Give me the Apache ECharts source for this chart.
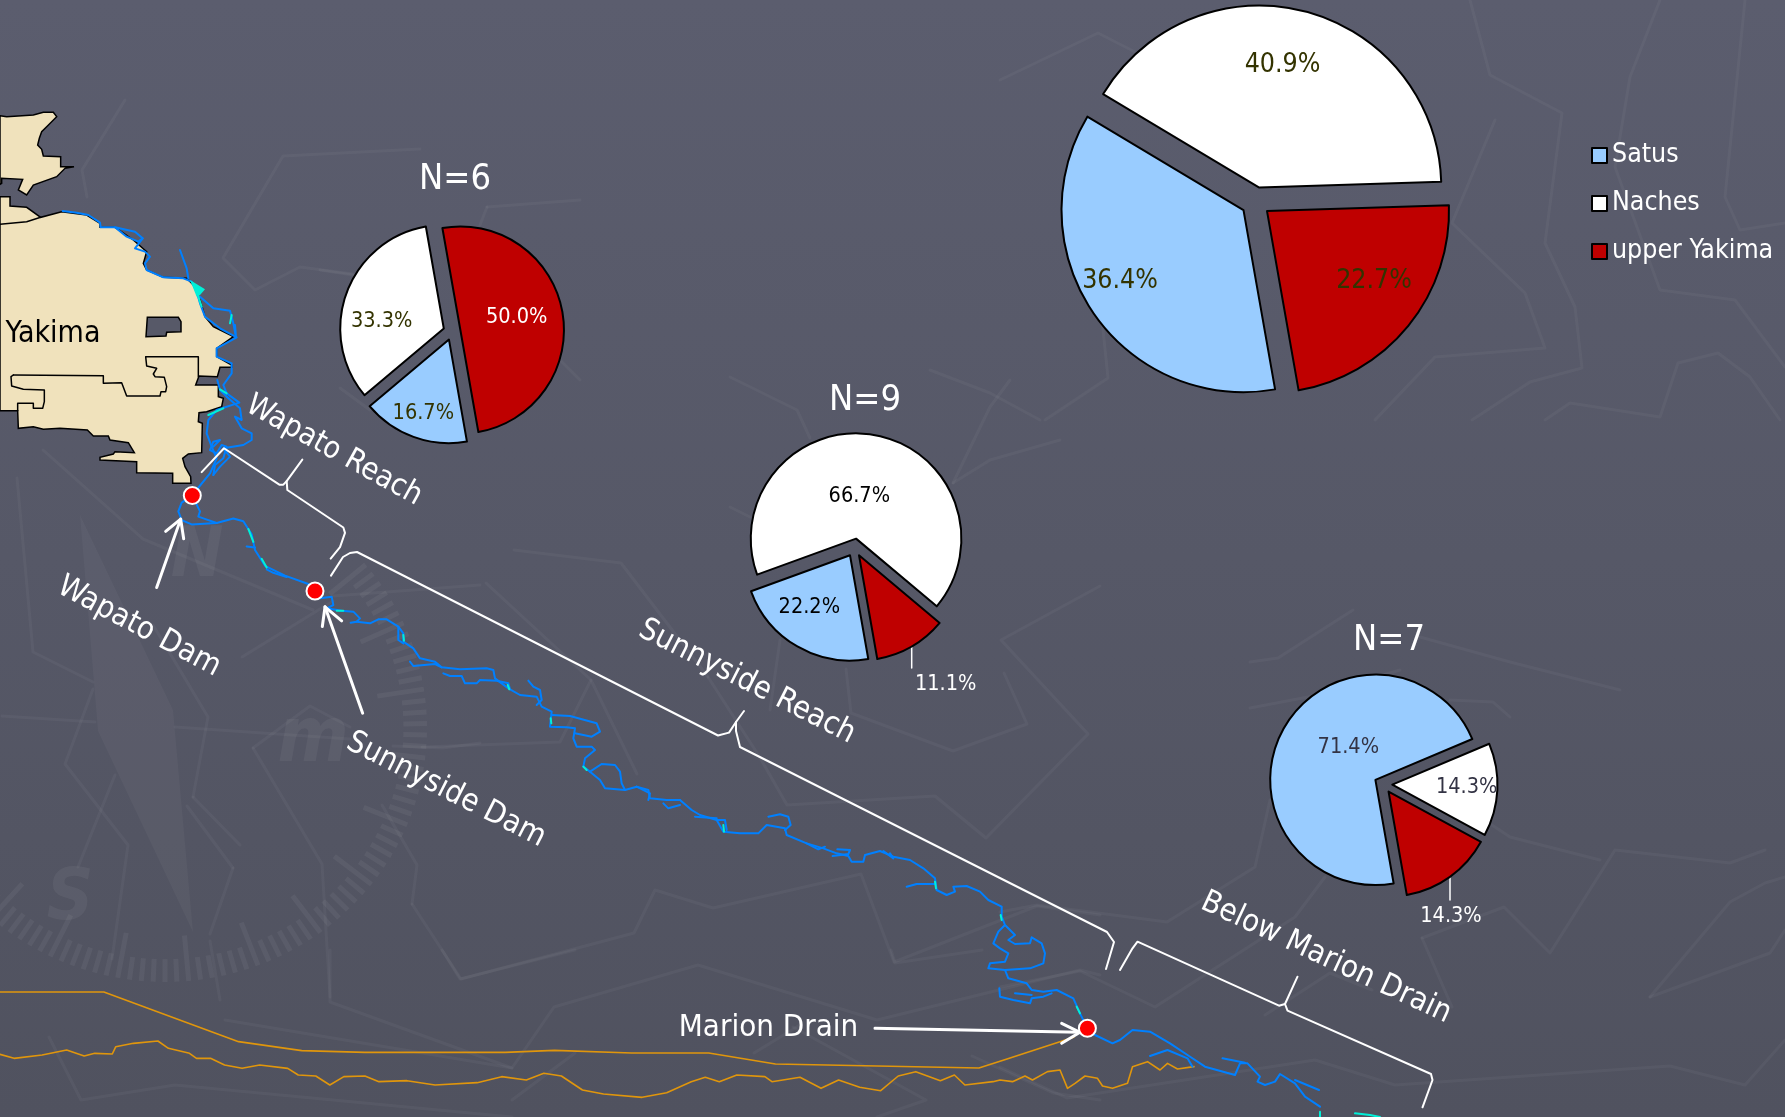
<!DOCTYPE html>
<html><head><meta charset="utf-8">
<style>html,body{margin:0;padding:0;width:1785px;height:1117px;overflow:hidden;background:#55576a}#c{width:1785px;height:1117px}</style>
<script src="https://cdn.jsdelivr.net/npm/echarts@6/dist/echarts.min.js"></script>
</head><body><div id="c"></div>
<script>
// ---------- data ----------
const sources = ['Satus', 'Naches', 'upper Yakima'];
const sourceColors = ['#99CCFF', '#FFFFFF', '#BF0000'];
const wapatoReach = [1, 2, 3];
const sunnysideReach = [2, 6, 1];
const belowMarion = [5, 1, 1];
const allReaches = [8, 9, 5];
const wapatoLabelColors = ['#333300', '#333300', '#FFFFFF'];
const sunnysideLabelColors = ['#000000', '#000000', '#FFFFFF'];
const marionLabelColors = ['#333344', '#333344', '#FFFFFF'];
const allLabelColors = ['#333300', '#333300', '#333300'];
const wapatoLabelSpots = [[423.3,413.7],[381.7,321.5],[516.7,317.7]];
const sunnysideLabelSpots = [[809.3,607],[859.3,496.5],[945.7,684.7]];
const marionLabelSpots = [[1348.3,747.7],[1466.7,787.7],[1451,916.3]];
const allLabelSpots = [[1120,281.5],[1282.5,65.3],[1374,281.5]];
const damSites = [[192.3,495.5],[315,591],[1087.4,1028.2]];

// ---------- traced map shapes, in crop units ----------
const z1=p=>[p[0]/3,90+p[1]/2.8], z3=p=>[1000+p[0]/2,850+p[1]/3], z5=p=>[p[0]/1.425,950+p[1]/3],
 z6=p=>[p[0]/3,100+p[1]/3], z10=p=>[p[0]/3,450+p[1]/2.85], z11=p=>[320+p[0]/3,590+p[1]/3], z12=p=>[680+p[0]/3,780+p[1]/3];

const cityNorth=[[0,47],[20,50],[100,45],[130,37],[160,37],[170,50],[140,80],[125,95],[118,115],[113,135],[125,148],[130,168],[182,170],[182,200],[222,200],[195,205],[170,230],[100,255],[80,285],[55,270],[68,238],[5,235],[5,250],[0,253]];
const cityMain=[[0,290],[30,290],[30,318],[80,322],[122,352],[185,335],[260,345],[300,370],[300,382],[345,382],[400,420],[440,455],[430,490],[440,510],[490,532],[560,535],[580,555],[600,600],[615,650],[640,680],[700,710],[650,745],[650,770],[695,795],[695,802],[660,802],[652,830],[597,828],[587,855],[655,855],[655,890],[670,895],[665,920],[620,935],[597,938],[595,965],[607,970],[605,1058],[565,1062],[548,1075],[555,1100],[572,1130],[573,1150],[518,1150],[518,1120],[410,1118],[410,1085],[300,1080],[300,1072],[340,1062],[345,1055],[403,1058],[385,1028],[330,1020],[325,1008],[280,1008],[262,990],[180,985],[130,988],[100,980],[55,985],[53,932],[0,932]];
const cityHole=[[442,652],[535,652],[543,665],[543,695],[500,697],[498,708],[438,710]];
const cityInner=[
 [[0,373],[80,365],[122,352]],
 [[40,825],[310,827],[310,850],[365,848],[380,888],[480,888],[483,875],[497,875],[500,860],[493,832],[465,830],[460,822],[470,805],[440,798],[437,770],[595,770],[595,830]],
 [[40,825],[33,830],[35,858],[70,868],[133,870],[133,905],[128,925],[100,925],[100,910],[53,910],[53,932]]
];
const riverUpper=[
 [[188,333],[230,338],[265,345],[300,368],[302,382],[345,382],[405,395],[428,415],[405,445],[435,455],[450,470],[435,490],[440,510],[490,532],[550,535],[575,545],[590,575],[600,610],[615,650],[660,685],[710,712],[650,745],[650,770],[695,790],[695,820],[670,855],[680,880],[718,908],[650,930],[625,960],[620,1000],[635,1040],[650,1075],[630,1120],[577,1185]],
 [[345,382],[380,410],[415,425],[428,415]],
 [[540,450],[560,505],[565,535]],
 [[600,590],[640,625],[690,632],[700,670],[708,712],[705,675]],
 [[652,840],[660,870],[680,890]],
 [[680,890],[720,925],[725,960],[705,950],[725,985],[755,1000],[755,1020],[730,1035],[670,1045],[690,1070],[660,1100],[640,1125]],
 [[640,1040],[660,1020],[640,1025],[630,1050],[650,1060],[665,1035],[680,1040],[670,1075],[645,1095],[640,1125]]
];
const riverWapato=[
 [[577,130],[545,150],[535,175],[545,200],[575,212],[650,208],[700,195],[730,203],[755,240],[765,285],[795,330],[855,358],[925,382]],
 [[577,130],[600,175],[595,190],[610,195],[650,208]],
 [[740,275],[765,278]],
 [[800,340],[820,350],[860,362]]
];
const riverSunnyside=[
 [[0,25],[35,20],[40,45],[20,55],[65,62],[100,65],[120,85],[110,95],[150,100],[175,88],[200,88],[235,110],[250,130],[250,155],[280,175],[300,205],[345,215],[365,232],[420,238],[500,235],[520,240],[525,265],[565,295],[600,315],[650,320],[665,350],[695,365],[690,410],[740,412],[765,415],[760,445],[770,470],[815,470],[825,480],[795,505],[790,530],[810,545],[840,570],[855,595],[915,600],[950,590],[985,600],[990,625],[1040,630],[1080,630]],
 [[110,95],[92,98]],
 [[270,215],[280,228],[345,222],[365,232]],
 [[370,250],[390,258],[425,258],[435,280],[470,280],[480,270],[530,272],[565,280],[570,298]],
 [[625,272],[640,290],[660,300],[665,330],[650,345]],
 [[695,375],[750,378],[830,400],[840,425],[815,440],[765,430]],
 [[810,545],[845,522],[885,525],[900,545],[905,580],[915,600]],
 [[950,590],[990,610],[985,630]],
 [[1030,640],[1045,655],[1080,645]],
 [[235,110],[235,150],[250,160]]
];
const riverToMarion=[
 [[0,60],[35,90],[60,105],[110,120],[130,155],[180,160],[235,160],[260,135],[315,145],[320,165],[380,190],[430,205],[470,220],[505,228],[515,245],[550,245],[555,225],[600,213],[640,230],[690,240],[730,265],[765,295],[770,330],[800,345],[825,335],[820,320],[860,318],[900,335],[925,360],[965,380],[965,410],[975,435],[1005,465],[985,480],[1005,492],[1050,490],[1055,472],[1085,490],[1095,520],[1090,550],[1050,565],[975,570],[925,565],[930,550],[975,545],[985,520],[960,505],[940,490],[955,455],[975,435]],
 [[975,570],[985,595],[1040,610],[1055,630],[1090,635],[1130,630],[1180,655],[1200,700],[1222,745]],
 [[45,110],[110,115]],
 [[110,120],[135,120],[140,150]],
 [[265,110],[300,103],[325,110],[332,135],[315,150]],
 [[380,190],[415,208],[435,200]],
 [[458,228],[505,222],[510,210],[472,208]],
 [[610,213],[640,235],[630,220]],
 [[680,320],[710,312],[765,312]],
 [[958,625],[960,650],[1000,660],[1050,670],[1055,655],[1090,650],[1115,640]],
 [[1005,640],[1055,645]]
];
const riverLower=[
 [[175,535],[190,555],[225,580],[240,570],[265,540],[300,545],[340,580],[375,615],[410,650],[470,675],[480,640],[495,640],[520,680],[515,695],[530,705],[550,695],[560,672],[590,700],[610,740],[640,770]],
 [[300,618],[335,600],[375,625],[385,650]],
 [[445,625],[490,638]],
 [[590,690],[638,720]]
];
const riverCyanBits=[
 [[640,785],[640,800]],[[710,790],[740,795],[760,801]]
];
const cyanUpper=[
 [[695,645],[690,670]],[[625,945],[670,925]],[[590,575],[605,620]],[[680,880],[660,868]]
];
const cyanWapato=[[[745,225],[760,262]],[[785,310],[800,335]]];
const cyanSunnyside=[[[250,135],[252,152]],[[563,285],[568,298]],[[692,385],[694,400]],[[790,530],[800,540]],[[50,62],[70,62]]];
const cyanToMarion=[[[130,135],[132,155]],[[765,305],[768,325]],[[962,405],[965,420]],[[1190,680],[1200,700]]];
const cyanPatch=[[570,540],[615,568],[600,585],[590,590]];
const canalNorth=[[0,126],[148,126],[340,275],[430,302],[520,307],[720,307],[790,301],[900,309],[1010,309],[1105,342],[1395,354],[1435,327],[1530,262]];
const canalSouthA=[[0,313],[20,325],[60,315],[95,300],[120,318],[135,310],[160,312],[165,290],[190,280],[225,273],[240,295],[270,310],[280,325],[300,325],[320,345],[345,355],[370,345],[410,355],[425,375],[450,378],[470,405],[490,380],[520,378],[540,395],[580,392],[620,405],[680,398],[715,380],[750,390],[775,370],[800,378],[830,420],[860,432],[915,442],[950,428],[985,395],[1005,382],[1025,395],[1050,375],[1090,380],[1100,395],[1140,382],[1170,415],[1195,390],[1225,412],[1255,422],[1280,378],[1305,365],[1340,392],[1360,375],[1375,405],[1415,395]];
const canalSouthB=[[0,690],[25,695],[50,678],[65,690],[95,665],[120,660],[135,715],[150,700],[170,678],[195,685],[205,708],[225,715],[255,700],[265,650],[295,635],[320,660],[335,640],[355,657],[388,650]];
const arrows=[
 [[470,392],[542,197]].map(z10),[[497,232],[542,197],[551,253]].map(z10),
 [[1088,750],[975,447]].map(z10),[[967,503],[975,447],[1025,487]].map(z10),
 [[585,745],[1200,757]].map(z12),[[1145,730],[1200,757],[1145,790]].map(z12)
];
const brackets=[
 [[605,1070],[672,1003],[838,1105],[850,1105],[860,1095],[907,1035]].map(z1),
 [[860,1095],[862,1120],[1030,1225],[1035,1240],[1020,1280],[992,1312]].map(z1),
 [[331,575.6],[343,557],[350,553],[357,552],[718,735.5],[729,732.6],[736,722],[744,711]],
 [[736,722],[736,731],[740,747],[1107,932],[1114,942],[1106,969]],
 [[240,360],[265,295],[275,275],[558,467],[570,462],[595,380]].map(z3),
 [[570,462],[575,482],[862,672],[865,690],[845,772]].map(z3)
];
const leaders=[[[911.7,647],[911.7,668]],[[1450,877],[1450,900]]];
const faintLines=[
 [[125,100],[82,170],[87,197]],
 [[420,149],[283,156],[223,258],[255,290],[300,267],[353,274]],
 [[487,207],[580,200]],[[487,207],[480,225]],[[320,270],[353,275]],[[340,388],[370,410]],[[560,360],[580,380]],
 [[1470,0],[1490,75],[1562,113],[1545,243],[1575,307],[1582,368],[1530,382],[1472,420]],
 [[1495,120],[1452,223],[1525,293],[1545,348],[1435,357],[1375,420]],
 [[1660,0],[1630,77],[1615,167],[1660,290],[1735,300],[1785,367]],
 [[1745,0],[1725,197],[1740,230],[1785,223]],
 [[1545,420],[1570,403],[1660,417],[1678,363],[1718,353],[1750,377],[1780,420]],
 [[1000,80],[1098,33],[1145,57]],
 [[1045,420],[1108,378],[1102,320]],
 [[730,377],[797,410],[810,438]],[[930,370],[990,393],[1040,420]],
 [[953,483],[990,460],[1060,440]],[[953,483],[990,407],[1010,380]],
 [[730,507],[750,517]],[[780,640],[770,710]],
 [[1250,662],[1278,658],[1353,610]],[[1420,637],[1510,662],[1620,690]],
 [[1250,708],[1308,697],[1400,670]],[[1450,700],[1493,702],[1510,717]],[[1492,825],[1510,837],[1600,860]],
 [[1270,800],[1255,867],[1167,922],[1037,905],[1000,912]],
 [[1325,877],[1295,917],[1155,1007],[1080,971],[1000,987]],
 [[1422,938],[1504,907],[1550,953],[1615,850],[1730,863],[1765,850]],
 [[1422,938],[1452,1007]],
 [[1650,997],[1730,902],[1765,883],[1785,877]],
 [[1650,997],[1770,953],[1785,930]],
 [[1000,1067],[1067,1098],[1315,1060],[1395,1085],[1670,1066],[1745,1085],[1785,1040]],
 [[1265,1015],[1330,973],[1372,990]],
 [[442,950],[460,979],[575,950]],
 [[330,950],[330,1002],[512,1068],[554,1007],[698,965],[877,1020],[1080,970],[1100,975]],
 [[225,1020],[512,1068]],[[49,1037],[81,1100],[175,1085],[512,1117]],
 [[793,1027],[926,1100],[877,1117]],[[575,1053],[512,1100]],[[754,1053],[800,1025]],
 [[972,1056],[1053,1093],[1100,1100]],[[891,950],[895,963],[982,950]],
 [[514,550],[621,563],[708,677]],[[486,583],[591,680],[637,774]],
 [[422,747],[560,742],[591,680]],[[412,904],[417,865],[382,805]],
 [[412,904],[461,979],[634,933],[655,890],[713,908],[861,874],[894,962],[1037,906],[1100,915]],
 [[708,677],[759,756],[787,805],[935,796],[986,838],[1088,734],[1001,640],[1100,586]],
 [[846,669],[851,713],[953,751],[1027,724],[1004,673]],
 [[43,450],[143,539],[313,610]],[[17,478],[33,652],[93,682]],
 [[93,689],[65,764],[128,845],[112,959]],[[115,775],[78,867]],
 [[2,716],[95,722]],[[175,727],[350,739]],[[393,746],[443,748],[480,743]],
 [[253,748],[310,706],[350,727]],[[253,748],[322,864],[330,997]],
 [[193,797],[208,717],[153,625]],[[193,797],[240,845]],[[187,806],[233,868]],
 [[210,934],[233,868]],[[210,941],[220,1000]],[[242,657],[333,601]],[[333,596],[480,585]]
];
const needleShape=[[80,515],[173,710],[193,932],[98,731]];

// ---------- chart ----------
const FONT='"DejaVu Sans Condensed","DejaVu Sans",sans-serif';
const W=1785,H=1117;
const chart=echarts.init(document.getElementById('c'),null,{renderer:'canvas',width:W,height:H});

function pie(name,values,center,radius,offset){
 return {type:'pie',name,center,radius,startAngle:280,selectedMode:'multiple',selectedOffset:offset,
  animation:false,silent:true,avoidLabelOverlap:false,z:5,
  label:{show:false},labelLine:{show:false},
  itemStyle:{borderColor:'#000',borderWidth:2},
  emphasis:{disabled:true},
  data:sources.map((n,i)=>({name:n,value:values[i],selected:true,itemStyle:{color:sourceColors[i]}}))};
}
function paths(name,lines,color,width,z){
 return {type:'lines',name,coordinateSystem:'cartesian2d',polyline:true,silent:true,animation:false,z,
  lineStyle:{color,width,opacity:1,cap:'round',join:'round',curveness:0},
  data:lines.map(c=>({coords:c}))};
}
function fills(name,polys,style,z){
 return {type:'custom',name,coordinateSystem:'cartesian2d',silent:true,animation:false,z,clip:false,
  data:polys.map((_,i)=>[i]),encode:{x:0},
  renderItem:(params,api)=>({type:'polygon',
    shape:{points:polys[params.dataIndex].map(p=>api.coord(p))},
    style:style})};
}
const CREAM='#F0E2BC',BGHOLE='#575968',BLUE='#0080FF',CYAN='#00F0D8',ORANGE='#E0960C';

const ringTicks=[];
for(let a=-40;a<220;a+=2.6){
 const t=a*Math.PI/180,c=Math.cos(t),s=Math.sin(t),long=Math.round((a+40)/2.6)%6===0,k=long?0.82:0.91;
 ringTicks.push({type:'line',silent:true,z:0,shape:{x1:165+262*c,y1:728+254*s,x2:165+262*k*c,y2:728+254*k*s},
   style:{stroke:'rgba(255,255,255,0.05)',lineWidth:5}});
}
const textEl=(text,x,y,size,rotDeg,color,font)=>({type:'text',silent:true,z:font?0:20,x,y,rotation:(rotDeg||0)*Math.PI/180,
  style:{text,fill:color||'#fff',font:font||`${size}px ${FONT}`,align:'center',verticalAlign:'middle'}});
const pctLabels=(values,spots,colors,size)=>{
 const total=values.reduce((a,b)=>a+b,0);
 return values.map((v,i)=>textEl((v/total*100).toFixed(1)+'%',spots[i][0],spots[i][1],size,0,colors[i]));
};
const FAINT='rgba(255,255,255,0.05)';

chart.setOption({
 animation:false,
 backgroundColor:{type:'linear',x:0,y:0,x2:0,y2:1,colorStops:[{offset:0,color:'#5B5D6E'},{offset:0.5,color:'#565867'},{offset:1,color:'#50525F'}]},
 grid:{left:0,top:0,right:0,bottom:0,containLabel:false},
 xAxis:{type:'value',min:0,max:W,show:false},
 yAxis:{type:'value',min:0,max:H,inverse:true,show:false},
 legend:{data:sources,orient:'vertical',left:1591,top:142,padding:0,itemWidth:15,itemHeight:15,itemGap:21,selectedMode:false,icon:'rect',
  itemStyle:{borderColor:'#000',borderWidth:2},
  textStyle:{color:'#fff',fontFamily:FONT,fontSize:26.5,lineHeight:25}},
 graphic:{elements:[
  ...ringTicks,
  {type:'polygon',silent:true,z:0,shape:{points:needleShape},style:{fill:'rgba(255,255,255,0.035)'}},
  textEl('N',197,558,70,0,FAINT,`italic bold 70px ${FONT}`),
  textEl('S',70,900,72,0,FAINT,`italic bold 72px ${FONT}`),
  textEl('m',313,741,76,0,FAINT,`italic bold 76px ${FONT}`),
  ...pctLabels(wapatoReach,wapatoLabelSpots,wapatoLabelColors,21.5),
  ...pctLabels(sunnysideReach,sunnysideLabelSpots,sunnysideLabelColors,21.5),
  ...pctLabels(belowMarion,marionLabelSpots,marionLabelColors,21.5),
  ...pctLabels(allReaches,allLabelSpots,allLabelColors,26.5),
  textEl('N=6',455,180,36),
  textEl('N=9',865,401,36),
  textEl('N=7',1389,640.5,36),
  textEl('Yakima',53,334,30,0,'#000'),
  textEl('Wapato Reach',334,451,30.5,-29),
  textEl('Wapato Dam',139,627,31,-28),
  textEl('Sunnyside Dam',446,790,31,-27),
  textEl('Sunnyside Reach',747,682,31,-27),
  textEl('Below Marion Drain',1326,958,31,-25),
  textEl('Marion Drain',768.5,1028,31,0)
 ]},
 series:[
  paths('pattern',faintLines,'rgba(255,255,255,0.04)',3,1),
  fills('city',[cityNorth.map(z6),cityMain.map(z6)],{fill:CREAM,stroke:'#000',lineWidth:1.5},2),
  fills('cityHole',[cityHole.map(z6)],{fill:BGHOLE,stroke:'#000',lineWidth:1.5},2),
  paths('cityLines',cityInner.map(l=>l.map(z6)),'#000',1.5,2),
  paths('canalNorth',[canalNorth.map(z5)],ORANGE,1.6,3),
  paths('canalSouth',[[...canalSouthA.map(z5),...canalSouthB.map(z3)]],ORANGE,1.6,3),
  paths('riverUpper',riverUpper.map(l=>l.map(z6)),BLUE,2,3),
  paths('riverWapato',riverWapato.map(l=>l.map(z10)),BLUE,2,3),
  paths('riverSunnyside',riverSunnyside.map(l=>l.map(z11)),BLUE,2,3),
  paths('riverToMarion',riverToMarion.map(l=>l.map(z12)),BLUE,2,3),
  paths('riverLower',riverLower.map(l=>l.map(z3)),BLUE,2,3),
  paths('riverCyanA',riverCyanBits.map(l=>l.map(z3)),CYAN,2,3.5),
  paths('riverCyanB',cyanUpper.map(l=>l.map(z6)),CYAN,2,3.5),
  paths('riverCyanC',cyanWapato.map(l=>l.map(z10)),CYAN,2,3.5),
  paths('riverCyanD',cyanSunnyside.map(l=>l.map(z11)),CYAN,2,3.5),
  paths('riverCyanE',cyanToMarion.map(l=>l.map(z12)),CYAN,2,3.5),
  fills('riverCyanPatch',[cyanPatch.map(z6)],{fill:CYAN},3.5),
  paths('brackets',brackets,'#FFFFFF',2,4),
  paths('arrows',arrows,'#FFFFFF',3,4),
  paths('leaders',leaders,'#FFFFFF',1.5,4),
  {type:'scatter',name:'dams',data:damSites,symbolSize:17,silent:true,animation:false,z:6,
   itemStyle:{color:'#FF0000',borderColor:'#fff',borderWidth:2,opacity:1}},
  pie('Wapato Reach',wapatoReach,[451.9,331.5],103.6,8.6),
  pie('Sunnyside Reach',sunnysideReach,[854.5,547.5],105.3,9),
  pie('Below Marion Drain',belowMarion,[1383.3,784.2],105.2,9),
  pie('All reaches',allReaches,[1255.6,201.8],182,14.7)
 ]
});
</script></body></html>
